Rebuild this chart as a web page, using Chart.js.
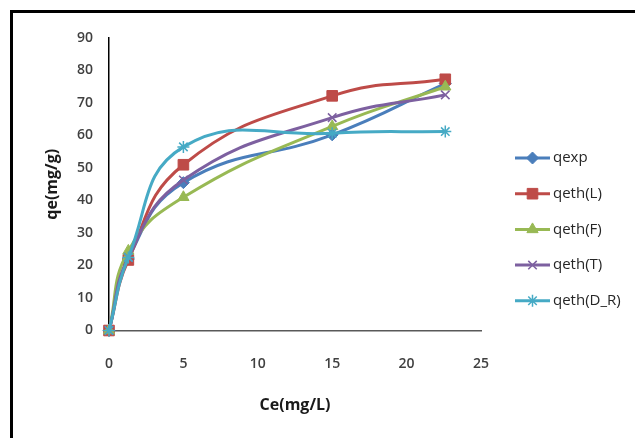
<!DOCTYPE html>
<html>
<head>
<meta charset="utf-8">
<script src="https://cdn.jsdelivr.net/npm/chart.js@4"></script>
<style>
    html, body { margin: 0; padding: 0; background: #fff; }
    #moldura { position: absolute; left: 10px; top: 10px; width: 640px; height: 440px;
               border-top: 3px solid #000; border-left: 3px solid #000; }
    #caixa { position: absolute; left: 0; top: 0; width: 635px; height: 438px; }
</style>
</head>
<body>
<div id="moldura"></div>
<div id="caixa"><canvas id="grafico"></canvas></div>
<script>
// Dados
const ce = [0, 1.3, 5, 15, 22.6];
const qexp = [0, 22, 45.5, 60.2, 76];
const qethL = [0, 21.7, 51, 72.2, 77.3];
const qethF = [0, 24.5, 41, 62.8, 75];
const qethT = [0, 22.5, 46.3, 65.5, 72.5];
const qethDR = [0, 22.5, 56.5, 60.7, 61.2];
const nomesSeries = ['qexp', 'qeth(L)', 'qeth(F)', 'qeth(T)', 'qeth(D_R)'];
const xTicks = [0, 5, 10, 15, 20, 25];
const yTicks = [0, 10, 20, 30, 40, 50, 60, 70, 80, 90];

const cores = ['#4A7EBB', '#BE4B48', '#98B954', '#7D60A0', '#46AAC5'];
const estilos = ['rectRot', 'rect', 'triangle', 'crossRot', 'star'];
const raios = [6, 7.5, 6.5, 6, 6];

function pontos(valores) {
    return ce.map((x, i) => ({ x: x, y: valores[i] }));
}

const series = [qexp, qethL, qethF, qethT, qethDR];
const datasets = series.map((valores, i) => ({
    label: nomesSeries[i],
    data: pontos(valores),
    borderColor: cores[i],
    backgroundColor: cores[i],
    pointBackgroundColor: cores[i],
    pointBorderColor: cores[i],
    pointStyle: estilos[i],
    pointRadius: raios[i],
    pointBorderWidth: (estilos[i] === 'crossRot' || estilos[i] === 'star') ? 1.5 : 1,
    borderWidth: 3,
    tension: 0.45,
    fill: false,
    clip: false,
    order: series.length - i // Excel desenha a última série por cima
}));

// Legenda desenhada à mão (linha + marcador, como no Excel)
const legendaExcel = {
    id: 'legendaExcel',
    afterDraw(chart) {
        const ctx = chart.ctx;
        ctx.save();
        chart.data.datasets.forEach((ds, i) => {
            const y = 158 + i * 35.7;
            ctx.strokeStyle = ds.borderColor;
            ctx.lineWidth = 3;
            ctx.beginPath();
            ctx.moveTo(515, y);
            ctx.lineTo(550, y);
            ctx.stroke();
            ctx.fillStyle = ds.backgroundColor;
            ctx.lineWidth = ds.pointBorderWidth;
            Chart.helpers.drawPoint(ctx, { pointStyle: ds.pointStyle, radius: ds.pointRadius, rotation: 0, borderWidth: ds.pointBorderWidth }, 532.5, y);
            ctx.fillStyle = '#262626';
            ctx.font = '15px "Open Sans"';
            ctx.textAlign = 'left';
            ctx.textBaseline = 'middle';
            ctx.fillText(ds.label, 553, y);
        });
        ctx.restore();
    }
};

const fonteTicks = { family: 'Open Sans', size: 14, weight: '600' };

new Chart(document.getElementById('grafico'), {
    type: 'line',
    data: { datasets: datasets },
    options: {
        responsive: true, maintainAspectRatio: false, animation: false,
        layout: { padding: { left: 0, top: 38, right: 154, bottom: 0 } },
        plugins: { legend: { display: false }, tooltip: { enabled: false } },
        scales: {
            x: {
                type: 'linear', min: 0, max: 25,
                afterFit: s => { s.height = 107.5; },
                afterBuildTicks: s => { s.ticks = xTicks.map(v => ({ value: v })); },
                ticks: { color: '#404040', font: fonteTicks, padding: 25, maxRotation: 0 },
                grid: { display: false, drawTicks: false },
                border: { display: true, color: '#595959', width: 1.5 },
                title: { display: true, text: 'Ce(mg/L)', color: '#1a1a1a',
                         font: { family: 'Open Sans', size: 16, weight: 'bold' },
                         padding: { top: 0, bottom: 23 } }
            },
            y: {
                min: 0, max: 90,
                afterFit: s => { s.width = 109; },
                afterBuildTicks: s => { s.ticks = yTicks.map(v => ({ value: v })); },
                ticks: { color: '#404040', font: fonteTicks, padding: 16 },
                grid: { display: false, drawTicks: false },
                border: { display: true, color: '#000', width: 1.5 },
                title: { display: true, text: 'qe(mg/g)', color: '#1a1a1a',
                         font: { family: 'Open Sans', size: 16, weight: 'bold' },
                         padding: { top: 43, bottom: 0 } }
            }
        }
    },
    plugins: [legendaExcel]
});
</script>
</body>
</html>
